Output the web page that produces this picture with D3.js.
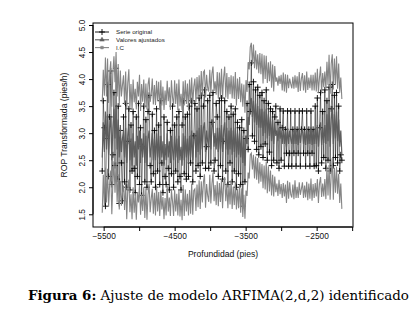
<!DOCTYPE html>
<html>
<head>
<meta charset="utf-8">
<script src="https://cdn.jsdelivr.net/npm/d3@7"></script>
<style>
  body { margin: 0; background: #fff; }
  svg { display: block; font-family: "Liberation Sans", Arial, sans-serif; }
  .caption { font-family: "DejaVu Serif", "Liberation Serif", serif; }
</style>
</head>
<body>
<div id="chart"></div>
<script>
// ARFIMA(2,d,2) fit: original series, fitted values and confidence band

const width = 415,
    height = 317,
    margin = ({ top: 23, right: 70, bottom: 90, left: 93 });

// depth (pies)
const depth = [
    -5520,-5505,-5490,-5475,-5460,-5445,-5430,-5415,-5400,-5385,
    -5370,-5355,-5340,-5325,-5310,-5295,-5280,-5265,-5250,-5235,
    -5220,-5205,-5190,-5175,-5160,-5145,-5130,-5115,-5100,-5085,
    -5070,-5055,-5040,-5025,-5010,-4995,-4980,-4965,-4950,-4935,
    -4920,-4905,-4890,-4875,-4860,-4845,-4830,-4815,-4800,-4785,
    -4770,-4755,-4740,-4725,-4710,-4695,-4680,-4665,-4650,-4635,
    -4620,-4605,-4590,-4575,-4560,-4545,-4530,-4515,-4500,-4485,
    -4470,-4455,-4440,-4425,-4410,-4395,-4380,-4365,-4350,-4335,
    -4320,-4305,-4290,-4275,-4260,-4245,-4230,-4215,-4200,-4185,
    -4170,-4155,-4140,-4125,-4110,-4095,-4080,-4065,-4050,-4035,
    -4020,-4005,-3990,-3975,-3960,-3945,-3930,-3915,-3900,-3885,
    -3870,-3855,-3840,-3825,-3810,-3795,-3780,-3765,-3750,-3735,
    -3720,-3705,-3690,-3675,-3660,-3645,-3630,-3615,-3600,-3585,
    -3570,-3555,-3540,-3525,-3510,-3495,-3480,-3465,-3450,-3435,
    -3420,-3405,-3390,-3375,-3360,-3345,-3330,-3315,-3300,-3285,
    -3270,-3255,-3240,-3225,-3210,-3195,-3180,-3165,-3150,-3135,
    -3120,-3105,-3090,-3075,-3060,-3045,-3030,-3015,-3000,-2985,
    -2970,-2955,-2940,-2925,-2910,-2895,-2880,-2865,-2850,-2835,
    -2820,-2805,-2790,-2775,-2760,-2745,-2730,-2715,-2700,-2685,
    -2670,-2655,-2640,-2625,-2610,-2595,-2580,-2565,-2550,-2535,
    -2520,-2505,-2490,-2475,-2460,-2445,-2430,-2415,-2400,-2385,
    -2370,-2355,-2340,-2325,-2310,-2295,-2280,-2265,-2250,-2235,
    -2220,-2205,-2190,-2175,-2160,-2145
];

// Serie original
const original = [
    2.3, 3.6, 3.1, 1.65, 2.9, 3.9, 2.2, 3.3, 4.15, 2.05,
    2.6, 3.75, 2.4, 4.2, 2.15, 3.5, 1.7, 3.05, 2.45, 1.75,
    3.3, 2.1, 3.55, 2.0, 2.85, 3.45, 1.95, 3.15, 2.3, 3.4,
    2.35, 1.9, 3.3, 2.2, 3.55, 2.05, 3.1, 1.85, 2.75, 3.5,
    2.1, 3.25, 2.0, 3.4, 3.7, 2.4, 2.1, 3.35, 2.25, 3.05,
    2.0, 3.45, 2.3, 3.15, 2.05, 3.6, 2.45, 1.9, 3.3, 2.2,
    2.05, 3.2, 2.35, 1.95, 3.05, 2.25, 3.5, 2.0, 3.15, 2.3,
    3.3, 2.1, 3.4, 2.2, 1.95, 3.15, 3.6, 2.25, 3.3, 2.15,
    3.35, 2.2, 3.5, 2.45, 3.6, 2.1, 2.95, 3.55, 2.3, 3.45,
    2.4, 3.65, 2.2, 3.7, 2.45, 3.5, 3.8, 2.35, 2.75, 3.6,
    2.35, 3.7, 2.45, 3.2, 3.75, 2.3, 2.5, 3.55, 3.3, 2.2,
    3.6, 2.4, 3.65, 2.15, 2.85, 3.6, 2.3, 3.4, 2.05, 3.3,
    2.45, 3.5, 2.1, 3.35, 2.3, 3.45, 2.0, 3.2, 2.25, 3.1,
    2.05, 3.25, 1.65, 3.05, 2.1, 2.9, 3.55, 2.7, 3.9, 3.4,
    4.3, 2.95, 3.95, 2.85, 3.8, 2.7, 3.85, 2.6, 3.7, 2.75,
    3.75, 2.55, 3.6, 2.8, 3.8, 2.5, 3.55, 2.65, 3.45, 2.4,
    3.4, 2.5, 3.3, 3.5, 2.45, 3.2, 2.35, 3.45, 2.5, 3.1,
    3.41, 2.39, 3.07, 2.63, 3.41, 2.39, 2.63, 3.41, 2.39, 3.07,
    2.63, 3.41, 2.39, 3.07, 2.63, 3.41, 2.39, 3.07, 3.41, 2.63,
    3.07, 2.39, 3.41, 2.63, 3.07, 2.39, 3.41, 2.63, 3.07, 2.39,
    3.5, 2.4, 3.65, 2.3, 3.1, 3.75, 2.45, 3.4, 2.55, 3.8,
    2.35, 3.6, 2.5, 3.85, 2.3, 3.45, 3.9, 2.4, 3.7, 2.55,
    3.75, 2.45, 3.5, 2.3, 2.6, 2.5
];

// Valores ajustados
const fitted = [
    2.55, 3.2, 2.65, 3.4, 2.7, 3.35, 2.6, 3.1, 3.3, 2.5,
    3.1, 3.45, 2.9, 3.5, 2.7, 3.25, 2.55, 3.15, 2.65, 2.9,
    3.05, 2.55, 3.1, 2.45, 2.95, 3.15, 2.5, 2.9, 2.4, 3.0,
    2.55, 2.85, 2.4, 2.95, 2.7, 3.05, 2.45, 2.9, 2.55, 3.0,
    2.45, 2.95, 2.4, 2.9, 3.05, 2.55, 2.75, 3.0, 2.5, 2.9,
    2.5, 3.0, 2.55, 2.95, 2.45, 2.95, 2.55, 2.85, 2.4, 2.8,
    2.5, 3.0, 2.55, 2.85, 2.45, 2.95, 2.7, 2.5, 2.95, 2.55,
    2.9, 2.45, 2.95, 2.5, 2.75, 2.4, 3.0, 2.5, 2.95, 2.55,
    2.9, 2.45, 2.95, 2.55, 3.05, 2.5, 2.9, 3.0, 2.55, 3.05,
    2.65, 3.1, 2.6, 3.15, 2.7, 3.1, 3.2, 2.65, 3.05, 2.85,
    2.75, 3.2, 2.7, 3.1, 3.25, 2.75, 3.0, 2.7, 3.1, 2.65,
    3.1, 2.7, 3.15, 2.65, 3.05, 3.2, 2.7, 3.1, 2.6, 3.05,
    2.7, 3.1, 2.6, 3.05, 2.65, 3.1, 2.55, 3.0, 2.6, 3.05,
    2.55, 2.95, 2.45, 2.9, 2.4, 2.95, 2.8, 3.3, 3.15, 3.6,
    3.65, 3.3, 3.6, 3.2, 3.55, 3.15, 3.5, 3.1, 3.45, 3.1,
    3.45, 2.95, 3.4, 3.0, 3.45, 2.9, 3.35, 2.95, 3.3, 2.85,
    3.25, 2.8, 3.2, 2.95, 3.05, 2.85, 3.1, 2.9, 3.05, 2.8,
    3.1, 2.8, 3.05, 2.75, 3.1, 2.8, 3.05, 2.9, 2.8, 3.05,
    2.8, 3.1, 2.8, 3.05, 2.78, 3.1, 2.82, 3.0, 3.08, 2.8,
    3.05, 2.78, 3.1, 2.8, 3.05, 2.8, 3.12, 2.78, 3.05, 2.8,
    3.1, 2.8, 3.15, 2.75, 3.05, 3.2, 2.78, 3.1, 2.82, 3.15,
    2.8, 3.35, 2.85, 3.45, 2.75, 3.25, 3.5, 2.8, 3.35, 2.9,
    3.4, 2.85, 3.25, 2.75, 3.05, 2.6
];

// I.C upper
const upper = [
    3.57, 4.17, 3.69, 4.4, 3.68, 4.38, 3.56, 4.11, 4.33, 3.49,
    4.12, 4.42, 3.94, 4.5, 3.68, 4.28, 3.51, 4.16, 3.68, 3.89,
    4.07, 3.52, 4.14, 3.45, 3.93, 4.18, 3.46, 3.91, 3.43, 3.99,
    3.57, 3.82, 3.44, 3.95, 3.68, 4.08, 3.41, 3.91, 3.58, 3.99,
    3.47, 3.92, 3.44, 3.9, 4.03, 3.58, 3.71, 4.01, 3.53, 3.89,
    3.52, 3.97, 3.59, 3.95, 3.43, 3.98, 3.51, 3.86, 3.43, 3.79,
    3.52, 3.97, 3.59, 3.85, 3.43, 3.98, 3.66, 3.51, 3.98, 3.54,
    3.92, 3.42, 3.99, 3.5, 3.73, 3.43, 3.96, 3.51, 3.98, 3.54,
    3.92, 3.42, 3.99, 3.55, 4.03, 3.53, 3.86, 4.01, 3.58, 4.04,
    3.67, 4.07, 3.64, 4.15, 3.68, 4.13, 4.16, 3.66, 4.08, 3.84,
    3.77, 4.17, 3.74, 4.1, 4.23, 3.78, 3.96, 3.71, 4.13, 3.64,
    4.12, 3.67, 4.19, 3.65, 4.03, 4.23, 3.66, 4.11, 3.63, 4.04,
    3.72, 4.07, 3.64, 4.05, 3.63, 4.13, 3.51, 4.01, 3.63, 4.04,
    3.57, 3.92, 3.49, 3.9, 3.38, 3.98, 3.76, 4.31, 4.18, 4.59,
    4.67, 4.27, 4.64, 4.2, 4.53, 4.18, 4.46, 4.11, 4.48, 4.09,
    4.47, 3.92, 4.44, 4.0, 4.43, 3.93, 4.31, 3.96, 4.33, 3.84,
    4.27, 3.77, 4.24, 3.95, 4.03, 3.88, 4.06, 3.91, 4.08, 3.79,
    4.12, 3.77, 4.09, 3.75, 4.08, 3.83, 4.01, 3.91, 3.83, 4.04,
    3.82, 4.07, 3.84, 4.05, 3.76, 4.13, 3.78, 4.01, 4.11, 3.79,
    4.07, 3.75, 4.14, 3.8, 4.03, 3.83, 4.08, 3.79, 4.08, 3.79,
    4.12, 3.77, 4.19, 3.75, 4.03, 4.23, 3.74, 4.11, 3.85, 4.14,
    3.82, 4.32, 3.89, 4.45, 3.73, 4.28, 4.46, 3.81, 4.38, 3.89,
    4.42, 3.82, 4.29, 3.75, 4.03, 3.63
];

// I.C lower
const lower = [
    1.53, 2.23, 1.65, 2.36, 1.72, 2.34, 1.64, 2.07, 2.31, 1.5,
    2.08, 2.48, 1.9, 2.46, 1.72, 2.24, 1.59, 2.12, 1.66, 1.9,
    2.03, 1.58, 2.1, 1.41, 1.97, 2.14, 1.54, 1.87, 1.41, 2.0,
    1.53, 1.88, 1.4, 1.91, 1.72, 2.04, 1.49, 1.87, 1.56, 2.0,
    1.43, 1.98, 1.4, 1.86, 2.07, 1.54, 1.79, 1.97, 1.51, 1.9,
    1.48, 2.03, 1.55, 1.91, 1.47, 1.94, 1.59, 1.82, 1.41, 1.8,
    1.48, 2.03, 1.55, 1.81, 1.47, 1.94, 1.74, 1.47, 1.96, 1.55,
    1.88, 1.48, 1.95, 1.46, 1.77, 1.39, 2.04, 1.47, 1.96, 1.55,
    1.88, 1.48, 1.95, 1.51, 2.07, 1.49, 1.94, 1.97, 1.56, 2.05,
    1.63, 2.13, 1.6, 2.11, 1.72, 2.09, 2.24, 1.62, 2.06, 1.85,
    1.73, 2.23, 1.7, 2.06, 2.27, 1.74, 2.04, 1.67, 2.11, 1.65,
    2.08, 1.73, 2.15, 1.61, 2.07, 2.19, 1.74, 2.07, 1.61, 2.05,
    1.68, 2.13, 1.6, 2.01, 1.67, 2.09, 1.59, 1.97, 1.61, 2.05,
    1.53, 1.98, 1.45, 1.86, 1.42, 1.94, 1.84, 2.27, 2.16, 2.6,
    2.63, 2.33, 2.6, 2.16, 2.57, 2.14, 2.54, 2.07, 2.46, 2.1,
    2.43, 1.98, 2.4, 1.96, 2.47, 1.89, 2.39, 1.92, 2.31, 1.85,
    2.23, 1.83, 2.2, 1.91, 2.07, 1.84, 2.14, 1.87, 2.06, 1.8,
    2.08, 1.83, 2.05, 1.71, 2.12, 1.79, 2.09, 1.87, 1.81, 2.05,
    1.78, 2.13, 1.8, 2.01, 1.8, 2.09, 1.86, 1.97, 2.09, 1.8,
    2.03, 1.81, 2.1, 1.76, 2.07, 1.79, 2.16, 1.75, 2.06, 1.8,
    2.08, 1.83, 2.15, 1.71, 2.07, 2.19, 1.82, 2.07, 1.83, 2.15,
    1.78, 2.38, 1.85, 2.41, 1.77, 2.24, 2.54, 1.77, 2.36, 1.9,
    2.38, 1.88, 2.25, 1.71, 2.07, 1.6
];

const xTicks = [-5500, -5000, -4500, -4000, -3500, -3000, -2500, -2000];
const xTickLabels = [-5500, -4500, -3500, -2500]; // R drops the overlapping ones
const yTicks = [1.5, 2.0, 2.5, 3.0, 3.5, 4.0, 4.5, 5.0];

const legendLabels = ["Serie original", "Valores ajustados", "I.C"];

const colObs = "#000",
    colFit = "#5e5e5e",
    colCI = "#858585";

const svg = d3.select("#chart")
    .append("svg")
    .attr("width", width)
    .attr("height", height)
    .attr("viewBox", [0, 0, width, height]);

svg.append("rect").attr("width", width).attr("height", height).attr("fill", "#fff");

let x = d3.scaleLinear()
    .domain([-5650, -1988])
    .range([margin.left, width - margin.right + 8]);

let y = d3.scaleLinear()
    .domain([1.265, 5.037])
    .range([227, margin.top]);

let plot = svg.append("g");

svg.append("clipPath").attr("id", "clip")
    .append("rect")
    .attr("x", x.range()[0]).attr("y", y.range()[1])
    .attr("width", x.range()[1] - x.range()[0])
    .attr("height", y.range()[0] - y.range()[1]);
plot.attr("clip-path", "url(#clip)");

let data = depth.map((d, i) => ({ depth: d, obs: original[i], fit: fitted[i], up: upper[i], lo: lower[i] }));

const lineOf = key => d3.line().x(d => x(d.depth)).y(d => y(d[key]));

// original series: line + crosses
plot.append("path")
    .datum(data)
    .attr("d", lineOf("obs"))
    .attr("fill", "none")
    .attr("stroke", colObs)
    .attr("stroke-width", 0.5);

plot.append("g")
    .selectAll("path")
    .data(data)
    .join("path")
    .attr("transform", d => `translate(${x(d.depth)},${y(d.obs)})`)
    .attr("d", "M-3,0H3M0,-3V3")
    .attr("stroke", colObs)
    .attr("stroke-width", 0.9);

// fitted values
plot.append("path")
    .datum(data)
    .attr("d", lineOf("fit"))
    .attr("fill", "none")
    .attr("stroke", colFit)
    .attr("stroke-width", 1.2);

// confidence band
for (let k of ["up", "lo"]) {
    plot.append("path")
        .datum(data)
        .attr("d", lineOf(k))
        .attr("fill", "none")
        .attr("stroke", colCI)
        .attr("stroke-width", 1.1);
}

// frame
svg.append("rect")
    .attr("x", x.range()[0]).attr("y", y.range()[1])
    .attr("width", x.range()[1] - x.range()[0])
    .attr("height", y.range()[0] - y.range()[1])
    .attr("fill", "none")
    .attr("stroke", "#000");

// x axis
let gx = svg.append("g")
    .attr("transform", `translate(0,${y.range()[0]})`)
    .call(d3.axisBottom(x).tickValues(xTicks).tickSize(4).tickSizeOuter(0)
        .tickFormat(d => xTickLabels.includes(d) ? d3.format("d")(d).replace("-", "\u2212") : ""));
gx.select(".domain").attr("d", `M${x(xTicks[0])},0H${x(xTicks[xTicks.length - 1])}`);
gx.selectAll("text").attr("font-size", 8.3).attr("dy", "0.9em").attr("y", 5).attr("fill", "#111");

// y axis, R style vertical labels
let gy = svg.append("g")
    .attr("transform", `translate(${x.range()[0]},0)`)
    .call(d3.axisLeft(y).tickValues(yTicks).tickSize(4).tickSizeOuter(0).tickFormat(d3.format(".1f")));
gy.select(".domain").attr("d", `M0,${y(yTicks[0])}V${y(yTicks[yTicks.length - 1])}`);
gy.selectAll("text")
    .attr("font-size", 8.3)
    .attr("x", 0).attr("dy", 0)
    .attr("text-anchor", "middle")
    .attr("transform", "translate(-8.5,0) rotate(-90)")
    .attr("fill", "#111");

svg.append("text")
    .attr("text-anchor", "middle")
    .attr("x", (x.range()[0] + x.range()[1]) / 2)
    .attr("y", 257)
    .attr("font-size", 8.6)
    .attr("fill", "#111")
    .text("Profundidad (pies)");

svg.append("text")
    .attr("text-anchor", "middle")
    .attr("transform", `translate(67,${(y.range()[0] + y.range()[1]) / 2}) rotate(-90)`)
    .attr("font-size", 8.6)
    .attr("fill", "#111")
    .text("ROP Transformada (pies/h)");

// legend
let legend = svg.append("g").attr("transform", "translate(95,32)");
let markers = [
    "M-3,0H3M0,-3V3",
    d3.symbol(d3.symbolTriangle, 9)(),
    d3.symbol(d3.symbolSquare, 7)()
];
let lcols = [colObs, colFit, colCI];
legendLabels.forEach((lab, i) => {
    let row = legend.append("g").attr("transform", `translate(0,${i * 7.8})`);
    row.append("line").attr("x1", 0).attr("x2", 14)
        .attr("stroke", lcols[i]).attr("stroke-width", i == 0 ? 0.9 : 1.1);
    row.append("path").attr("transform", "translate(7,0)")
        .attr("d", markers[i])
        .attr("fill", i == 0 ? "none" : lcols[i])
        .attr("stroke", lcols[i]).attr("stroke-width", i == 0 ? 0.9 : 0.5);
    row.append("text").attr("x", 21).attr("dy", "0.35em")
        .attr("font-size", 6.2).attr("fill", "#222")
        .text(lab);
});

// caption
let cap = svg.append("text")
    .attr("class", "caption")
    .attr("x", 28)
    .attr("y", 300)
    .attr("font-size", 13.4)
    .attr("fill", "#000");
cap.append("tspan").attr("font-weight", "bold").text("Figura 6:");
cap.append("tspan").text(" Ajuste de modelo ARFIMA(2,d,2) identificado");
</script>
</body>
</html>
